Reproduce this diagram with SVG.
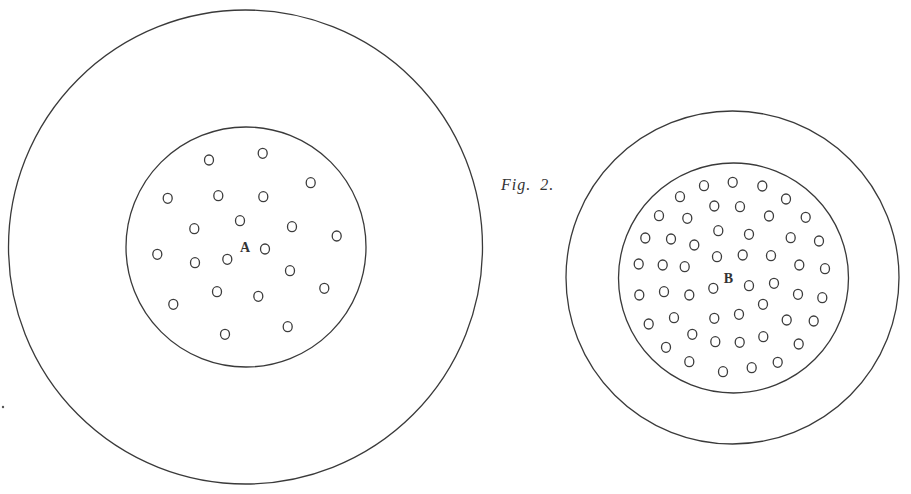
<svg xmlns="http://www.w3.org/2000/svg" width="911" height="494" viewBox="0 0 911 494">
<style>
.ring{fill:none;stroke:#3a3a3a;stroke-width:1.3}
.hole{fill:none;stroke:#3c3c3c;stroke-width:1.3}
.lbl{font-family:"Liberation Serif",serif;font-weight:bold;font-size:14px;fill:#333;text-anchor:middle}
.fig{font-family:"Liberation Serif",serif;font-style:italic;font-size:16px;fill:#333}
</style>
<defs>
<ellipse id="h" class="hole" cx="0" cy="0" rx="4.5" ry="5"/>
</defs>
<rect width="911" height="494" fill="#ffffff"/>
<g id="figA">
<circle class="ring" cx="245.5" cy="247" r="237"/>
<circle class="ring" cx="246" cy="247" r="120"/>
<g id="holesA">
<use href="#h" x="209" y="160"/>
<use href="#h" x="262.7" y="153.3"/>
<use href="#h" x="310.7" y="182.7"/>
<use href="#h" x="167.7" y="198.3"/>
<use href="#h" x="218.3" y="195.7"/>
<use href="#h" x="263.3" y="196.7"/>
<use href="#h" x="240" y="220.7"/>
<use href="#h" x="194.3" y="228.7"/>
<use href="#h" x="292" y="226.7"/>
<use href="#h" x="336.7" y="236"/>
<use href="#h" x="265" y="249"/>
<use href="#h" x="157.3" y="254.3"/>
<use href="#h" x="195" y="262.7"/>
<use href="#h" x="227.3" y="259.3"/>
<use href="#h" x="290" y="270.7"/>
<use href="#h" x="324.3" y="288.3"/>
<use href="#h" x="217" y="291.7"/>
<use href="#h" x="258.3" y="296.3"/>
<use href="#h" x="173.3" y="304.3"/>
<use href="#h" x="225" y="334.3"/>
<use href="#h" x="287.7" y="326.7"/>
</g>
<text class="lbl" x="245" y="252">A</text>
</g>
<g id="figB">
<circle class="ring" cx="732.5" cy="277.5" r="166.5"/>
<circle class="ring" cx="733.5" cy="278" r="115"/>
<g id="holesB">
<use href="#h" x="704" y="185.7"/>
<use href="#h" x="732.7" y="182.3"/>
<use href="#h" x="762.3" y="186"/>
<use href="#h" x="680" y="196.7"/>
<use href="#h" x="786" y="199"/>
<use href="#h" x="714.3" y="206"/>
<use href="#h" x="740" y="206.7"/>
<use href="#h" x="659" y="215.7"/>
<use href="#h" x="687.3" y="218.3"/>
<use href="#h" x="769" y="216"/>
<use href="#h" x="805.7" y="217.3"/>
<use href="#h" x="718.3" y="230.7"/>
<use href="#h" x="749" y="234.3"/>
<use href="#h" x="645.3" y="238"/>
<use href="#h" x="671" y="239"/>
<use href="#h" x="694.3" y="245"/>
<use href="#h" x="790.7" y="237.7"/>
<use href="#h" x="819" y="241"/>
<use href="#h" x="717" y="256.7"/>
<use href="#h" x="742.7" y="255"/>
<use href="#h" x="771" y="255.7"/>
<use href="#h" x="638.7" y="264"/>
<use href="#h" x="662.7" y="265"/>
<use href="#h" x="684.7" y="266.7"/>
<use href="#h" x="799.3" y="265"/>
<use href="#h" x="825" y="268.7"/>
<use href="#h" x="713.3" y="288.3"/>
<use href="#h" x="749" y="285.7"/>
<use href="#h" x="774" y="283.3"/>
<use href="#h" x="639.3" y="295"/>
<use href="#h" x="664" y="291.7"/>
<use href="#h" x="689.3" y="295"/>
<use href="#h" x="798" y="294.3"/>
<use href="#h" x="822.3" y="297.7"/>
<use href="#h" x="763" y="304.3"/>
<use href="#h" x="648.7" y="324"/>
<use href="#h" x="674" y="317.7"/>
<use href="#h" x="714.3" y="318.3"/>
<use href="#h" x="739" y="314.3"/>
<use href="#h" x="786.7" y="320"/>
<use href="#h" x="813.7" y="321"/>
<use href="#h" x="692.3" y="334.3"/>
<use href="#h" x="715.3" y="341.7"/>
<use href="#h" x="739.7" y="342.3"/>
<use href="#h" x="763.3" y="336.7"/>
<use href="#h" x="798.7" y="344"/>
<use href="#h" x="666" y="347.3"/>
<use href="#h" x="689.3" y="361.7"/>
<use href="#h" x="723" y="371.7"/>
<use href="#h" x="751.7" y="367.7"/>
<use href="#h" x="777.7" y="362.3"/>
</g>
<text class="lbl" x="728.3" y="283">B</text>
</g>
<text class="fig" x="501" y="190" word-spacing="4" letter-spacing="1">Fig. 2.</text>
<circle cx="3" cy="407" r="1.2" fill="#555"/>
</svg>
